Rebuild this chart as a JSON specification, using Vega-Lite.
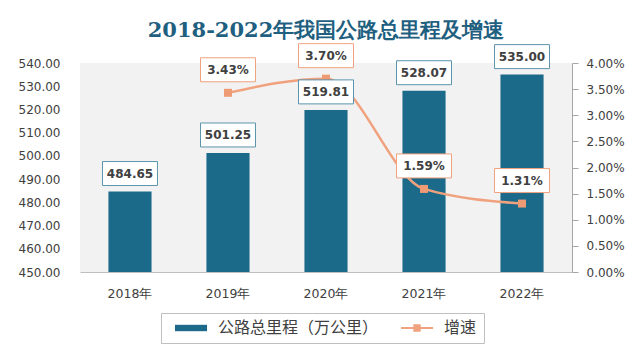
{
  "$schema": "https://vega.github.io/schema/vega-lite/v6.json",
  "autosize": "none",
  "width": 492,
  "height": 209,
  "padding": {"left": 80, "top": 63, "right": 72, "bottom": 88},
  "background": "white",
  "title": {
    "text": "2018-2022年我国公路总里程及增速",
    "font": "DejaVu Serif",
    "fontSize": 21,
    "fontWeight": "bold",
    "color": "#1f5f7f",
    "anchor": "middle",
    "offset": 1
  },
  "config": {
    "view": {"fill": "#f2f2f2", "stroke": null},
    "font": "DejaVu Sans",
    "axis": {"labelFont": "DejaVu Sans", "labelColor": "#404040", "labelFontSize": 12, "grid": false, "title": null},
    "legend": {"strokeColor": "#bfbfbf", "fillColor": "white", "strokeWidth": 1}
  },
  "data": {
    "values": [
      {"year": "2018年", "km": 484.65, "growth": null},
      {"year": "2019年", "km": 501.25, "growth": 0.0343},
      {"year": "2020年", "km": 519.81, "growth": 0.037},
      {"year": "2021年", "km": 528.07, "growth": 0.0159},
      {"year": "2022年", "km": 535.00, "growth": 0.0131}
    ]
  },
  "encoding": {
    "x": {
      "field": "year", "type": "nominal", "sort": null,
      "scale": {"paddingInner": 0.56, "paddingOuter": 0.29},
      "axis": {"labelAngle": 0, "ticks": false, "domainColor": "#bfbfbf", "labelPadding": 15, "labelFontSize": 12.5}
    }
  },
  "layer": [
    {
      "mark": {"type": "bar", "clip": true},
      "encoding": {
        "y": {
          "field": "km", "type": "quantitative",
          "scale": {"domain": [450, 540], "nice": false, "zero": false},
          "axis": {"values": [450, 460, 470, 480, 490, 500, 510, 520, 530, 540], "format": ".2f", "domain": false, "ticks": false, "labelPadding": 20}
        },
        "color": {
          "datum": "公路总里程（万公里）",
          "scale": {"domain": ["公路总里程（万公里）", "增速"], "range": ["#1b6a8a", "#f0a27e"]},
          "legend": {
            "title": null,
            "orient": "none",
            "legendX": 81,
            "legendY": 250,
            "direction": "horizontal",
            "strokeColor": "#bfbfbf",
            "fillColor": "white",
            "padding": 7,
            "symbolOffset": 15,
            "labelFontSize": 16,
            "labelLimit": 400,
            "labelColor": "#404040",
            "labelFont": "Noto Sans CJK SC",
            "columnPadding": 15,
            "symbolSize": 1024,
            "labelOffset": 19,
            "encode": {
              "symbols": {
                "update": {
                  "shape": {"signal": "datum.value === '增速' ? 'M-1,0H1M-0.17,-0.17H0.17V0.17H-0.17Z' : 'M-1,-0.2H1V0.2H-1Z'"},
                  "fill": {"signal": "datum.value === '增速' ? '#f0a27e' : '#1b6a8a'"},
                  "stroke": {"signal": "datum.value === '增速' ? '#f0a27e' : '#1b6a8a'"},
                  "strokeWidth": {"signal": "datum.value === '增速' ? 2 : 0"},
                  "opacity": {"value": 1},
                  "fillOpacity": {"value": 1}
                }
              }
            }
          }
        }
      }
    },
    {
      "transform": [{"filter": "datum.growth != null"}],
      "encoding": {
        "y": {
          "field": "growth", "type": "quantitative",
          "scale": {"domain": [0, 0.04], "nice": false},
          "axis": {"orient": "right", "values": [0, 0.005, 0.01, 0.015, 0.02, 0.025, 0.03, 0.035, 0.04], "format": ".2%", "domainColor": "#a6a6a6", "tickColor": "#a6a6a6", "tickSize": 6, "labelPadding": 8}
        }
      },
      "layer": [
        {
          "mark": {"type": "line", "interpolate": "monotone", "strokeWidth": 2.5},
          "encoding": {"color": {"datum": "增速"}}
        },
        {
          "mark": {"type": "point", "shape": "square", "size": 64, "filled": true, "color": "#ee9a75", "opacity": 1}
        }
      ]
    },
    {
      "encoding": {
        "y": {
          "field": "km", "type": "quantitative",
          "scale": {"domain": [450, 540], "nice": false, "zero": false},
          "axis": null
        }
      },
      "layer": [
        {
          "mark": {"type": "point", "shape": "M-1,-0.436H1V0.436H-1Z", "size": 3025, "filled": true, "fill": "white", "stroke": "#5b95ad", "strokeWidth": 1, "opacity": 1, "yOffset": -18}
        },
        {
          "mark": {"type": "text", "fontWeight": "bold", "fontSize": 12, "color": "#404040", "yOffset": -18, "baseline": "middle"},
          "encoding": {"text": {"field": "km", "type": "quantitative", "format": ".2f"}}
        }
      ]
    },
    {
      "transform": [{"filter": "datum.growth != null"}],
      "encoding": {
        "y": {
          "field": "growth", "type": "quantitative",
          "scale": {"domain": [0, 0.04], "nice": false},
          "axis": null
        }
      },
      "layer": [
        {
          "mark": {"type": "point", "shape": "M-1,-0.436H1V0.436H-1Z", "size": 3025, "filled": true, "fill": "white", "stroke": "#f0a27e", "strokeWidth": 1, "opacity": 1, "yOffset": -23}
        },
        {
          "mark": {"type": "text", "fontWeight": "bold", "fontSize": 12, "color": "#404040", "yOffset": -23, "baseline": "middle"},
          "encoding": {"text": {"field": "growth", "type": "quantitative", "format": ".2%"}}
        }
      ]
    }
  ],
  "resolve": {"scale": {"y": "independent"}}
}
